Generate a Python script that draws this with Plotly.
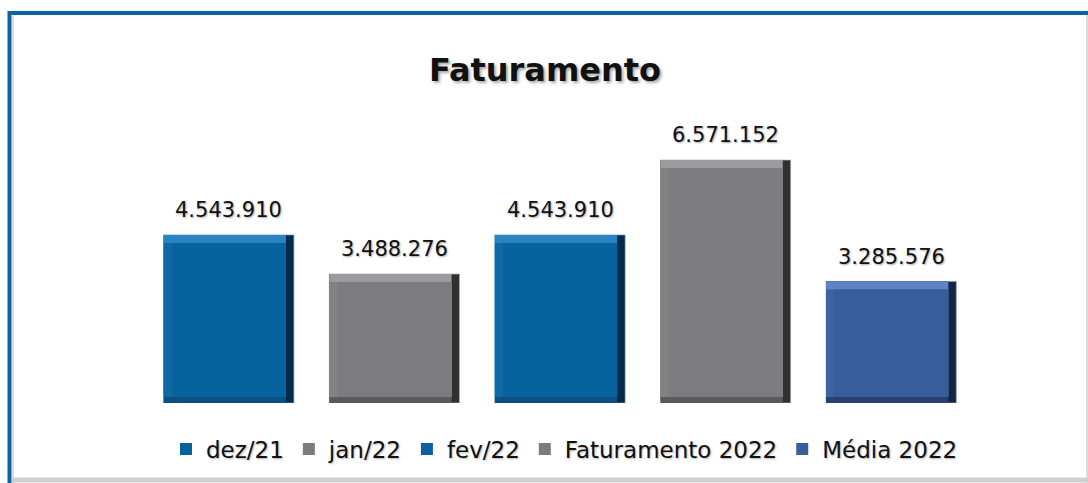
import plotly.graph_objects as go

# ---- data ----
categories = ["dez/21", "jan/22", "fev/22", "Faturamento 2022", "Média 2022"]
values = [4543910, 3488276, 4543910, 6571152, 3285576]
labels = ["4.543.910", "3.488.276", "4.543.910", "6.571.152", "3.285.576"]

# ---- styles ----
face_colors = ["#08629E", "#7C7C7F", "#08629E", "#7C7C7F", "#375D9B"]
left_colors = ["#0F69A5", "#828284", "#0F69A5", "#828284", "#3C62A0"]
top_colors = ["#2A84C2", "#9C9C9E", "#2A84C2", "#9C9C9E", "#5E84C4"]
bottom_colors = ["#0C4F82", "#5A5A5C", "#0C4F82", "#5A5A5C", "#284270"]
right_colors = ["#042A4A", "#303032", "#042A4A", "#303032", "#16253F"]
outline_colors = ["#5A9CCB", "#B0B0B0", "#5A9CCB", "#B0B0B0", "#7E9AC8"]

W, H = 1088, 483
ML, MR, MT, MB = 146, 114, 120, 80
plot_w = W - ML - MR
plot_h = H - MT - MB
YMAX = 7.654e6
BAR_W = 0.786
dx = 8 * len(categories) / plot_w      # side bevel in category units
dy = 8 * YMAX / plot_h                 # top bevel in data units
dyb = 6 * YMAX / plot_h                # bottom bevel in data units

FONT = "DejaVu Sans"
fig = go.Figure()

for i, (c, v) in enumerate(zip(categories, values)):
    common = dict(x=[c], hoverinfo="skip", showlegend=False)
    # right bevel (full bar)
    fig.add_trace(go.Bar(y=[v], width=BAR_W, marker_color=right_colors[i],
                         marker_line=dict(color=outline_colors[i], width=0.7), **common))
    # bottom bevel
    fig.add_trace(go.Bar(y=[v], width=BAR_W - dx, offset=-BAR_W / 2,
                         marker_color=bottom_colors[i], marker_line_width=0, **common))
    # top bevel
    fig.add_trace(go.Bar(y=[v - dyb], base=dyb, width=BAR_W - dx, offset=-BAR_W / 2,
                         marker_color=top_colors[i], marker_line_width=0, **common))
    # left bevel
    fig.add_trace(go.Bar(y=[v - dyb - dy], base=dyb, width=BAR_W - dx, offset=-BAR_W / 2,
                         marker_color=left_colors[i], marker_line_width=0, **common))
    # face (legend entry)
    fig.add_trace(go.Bar(x=[c], y=[v - dyb - dy], base=dyb, width=BAR_W - 2 * dx,
                         offset=-BAR_W / 2 + dx, marker_color=face_colors[i],
                         marker_line_width=0, name=c, showlegend=True,
                         legendrank=i + 1, hoverinfo="skip"))
    fig.add_annotation(x=c, y=v, text=labels[i], showarrow=False, yanchor="bottom",
                       yshift=11, font=dict(family=FONT, size=21, color="#111111",
                                            shadow="1px 1px 2px rgba(0,0,0,0.35)"))

def px_x(p):
    return (p - ML) / plot_w

def px_y(p):
    return (H - MB - p) / plot_h

# frame: blue top & left, gray right & bottom
frame = [
    dict(x0=px_x(8), x1=px_x(W), y0=px_y(13), y1=px_y(13), color="#0A64A0", width=4),
    dict(x0=px_x(9.5), x1=px_x(9.5), y0=px_y(11), y1=px_y(H), color="#0A64A0", width=4),
    dict(x0=px_x(13), x1=px_x(13), y0=px_y(16), y1=px_y(H), color="#DDDDDD", width=2),
    dict(x0=px_x(1087), x1=px_x(1087), y0=px_y(15), y1=px_y(H), color="#D0D0D0", width=1.5),
    dict(x0=px_x(12), x1=px_x(W), y0=px_y(480), y1=px_y(480), color="#CFCFCF", width=5),
]
for f in frame:
    fig.add_shape(type="line", xref="paper", yref="paper", x0=f["x0"], x1=f["x1"],
                  y0=f["y0"], y1=f["y1"], line=dict(color=f["color"], width=f["width"]))

fig.update_layout(
    width=W, height=H,
    margin=dict(l=ML, r=MR, t=MT, b=MB),
    paper_bgcolor="white", plot_bgcolor="white",
    barmode="overlay",
    title=dict(text="<b>Faturamento</b>", x=(545 / W), xref="container", xanchor="center",
               y=1 - 70 / H, yanchor="middle",
               font=dict(family=FONT, size=32, color="#111111",
                         shadow="2px 2px 3px rgba(0,0,0,0.35)")),
    xaxis=dict(showticklabels=False, showgrid=False, zeroline=False, showline=False,
               range=[-0.5, len(categories) - 0.5]),
    yaxis=dict(showticklabels=False, showgrid=False, zeroline=False, showline=False,
               range=[0, YMAX]),
    legend=dict(orientation="h", x=px_x(166), xanchor="left", y=px_y(449), yanchor="middle",
                font=dict(family=FONT, size=23, color="#111111",
                          shadow="1px 1px 2px rgba(0,0,0,0.3)"),
                itemwidth=30, traceorder="normal", bgcolor="rgba(0,0,0,0)"),
    showlegend=True,
)

fig.write_html("out.html", config={"displayModeBar": False},
               post_script="document.body.style.margin='0';")
